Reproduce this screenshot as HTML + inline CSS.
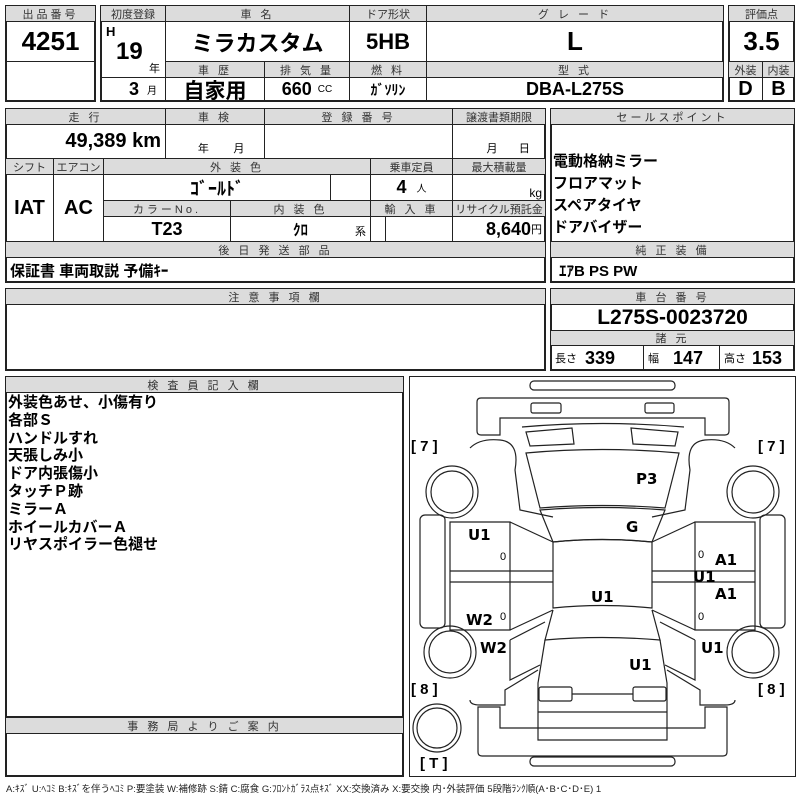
<!DOCTYPE html>
<html><head><meta charset="utf-8"><style>
*{margin:0;padding:0;box-sizing:border-box}
body{width:800px;height:800px;background:#fff;position:relative;overflow:hidden;font-family:"Liberation Sans","Noto Sans CJK JP",sans-serif;color:#000}
.c{position:absolute;border:1px solid #222;display:flex;align-items:center;justify-content:center;white-space:nowrap;overflow:hidden}
.h{background:#dcdcdc;font-size:11px;color:#333;letter-spacing:3px}
.v{font-weight:bold;font-size:18px;font-family:"Liberation Sans Narrow","Liberation Sans","Noto Sans CJK JP",sans-serif}
.o{position:absolute;border:2px solid #222}
.t{position:absolute;white-space:nowrap}
</style></head><body>
<div class="o" style="left:5px;top:5px;width:91px;height:97px"></div>
<div class="c h" style="left:5px;top:5px;width:91px;height:17px">出品番号</div>
<div class="c v" style="left:5px;top:21px;width:91px;height:41px;font-size:26px">4251</div>
<div class="c" style="left:5px;top:61px;width:91px;height:41px"></div>
<div class="o" style="left:100px;top:5px;width:624px;height:97px"></div>
<div class="c h" style="left:100px;top:5px;width:66px;height:17px;letter-spacing:0">初度登録</div>
<div class="c h" style="left:165px;top:5px;width:185px;height:17px">車 名</div>
<div class="c h" style="left:349px;top:5px;width:78px;height:17px;letter-spacing:0">ドア形状</div>
<div class="c h" style="left:426px;top:5px;width:298px;height:17px">グ レ ー ド</div>
<div class="c" style="left:100px;top:21px;width:66px;height:57px"></div>
<div class="t v" style="left:106px;top:24px;font-size:13px">H</div>
<div class="t v" style="left:116px;top:38px;font-size:24px">19</div>
<div class="t" style="left:149px;top:60px;font-size:11px">年</div>
<div class="c v" style="left:165px;top:21px;width:185px;height:41px;font-size:22px">ミラカスタム</div>
<div class="c v" style="left:349px;top:21px;width:78px;height:41px;font-size:22px">5HB</div>
<div class="c v" style="left:426px;top:21px;width:298px;height:41px;font-size:26px">L</div>
<div class="c h" style="left:165px;top:61px;width:100px;height:17px">車 歴</div>
<div class="c h" style="left:264px;top:61px;width:86px;height:17px">排 気 量</div>
<div class="c h" style="left:349px;top:61px;width:78px;height:17px">燃 料</div>
<div class="c h" style="left:426px;top:61px;width:298px;height:17px">型 式</div>
<div class="c v" style="left:100px;top:77px;width:66px;height:25px;justify-content:flex-end;padding-right:8px">3 <span style="font-size:10px;font-weight:normal;margin-left:8px">月</span></div>
<div class="c v" style="left:165px;top:77px;width:100px;height:25px;font-size:21px">自家用</div>
<div class="c v" style="left:264px;top:77px;width:86px;height:25px">660 <span style="font-size:10px;font-weight:normal;margin-left:6px">CC</span></div>
<div class="c v" style="left:349px;top:77px;width:78px;height:25px;font-size:14px">ｶﾞｿﾘﾝ</div>
<div class="c v" style="left:426px;top:77px;width:298px;height:25px">DBA-L275S</div>
<div class="o" style="left:728px;top:5px;width:67px;height:97px"></div>
<div class="c h" style="left:728px;top:5px;width:67px;height:17px;letter-spacing:0">評価点</div>
<div class="c v" style="left:728px;top:21px;width:67px;height:41px;font-size:26px">3.5</div>
<div class="c h" style="left:728px;top:61px;width:35px;height:17px;letter-spacing:0">外装</div>
<div class="c h" style="left:762px;top:61px;width:33px;height:17px;letter-spacing:0">内装</div>
<div class="c v" style="left:728px;top:77px;width:35px;height:25px;font-size:20px">D</div>
<div class="c v" style="left:762px;top:77px;width:33px;height:25px;font-size:20px">B</div>
<div class="o" style="left:5px;top:108px;width:541px;height:175px"></div>
<div class="c h" style="left:5px;top:108px;width:161px;height:17px">走 行</div>
<div class="c h" style="left:165px;top:108px;width:100px;height:17px">車 検</div>
<div class="c h" style="left:264px;top:108px;width:189px;height:17px">登 録 番 号</div>
<div class="c h" style="left:452px;top:108px;width:94px;height:17px;letter-spacing:0">譲渡書類期限</div>
<div class="c v" style="left:5px;top:124px;width:161px;height:35px;justify-content:flex-end;padding-right:4px;font-size:20px">49,389 km</div>
<div class="c" style="left:165px;top:124px;width:100px;height:35px;align-items:flex-end;font-size:11px;padding-bottom:2px">&nbsp;&nbsp;&nbsp;&nbsp;年&nbsp;&nbsp;&nbsp;&nbsp;&nbsp;&nbsp;&nbsp;&nbsp;月</div>
<div class="c" style="left:264px;top:124px;width:189px;height:35px"></div>
<div class="c" style="left:452px;top:124px;width:94px;height:35px;align-items:flex-end;font-size:11px;padding-bottom:2px">&nbsp;&nbsp;&nbsp;&nbsp;&nbsp;&nbsp;月&nbsp;&nbsp;&nbsp;&nbsp;&nbsp;&nbsp;&nbsp;日</div>
<div class="c h" style="left:5px;top:158px;width:49px;height:17px;letter-spacing:0">シフト</div>
<div class="c h" style="left:53px;top:158px;width:51px;height:17px;letter-spacing:0">エアコン</div>
<div class="c h" style="left:103px;top:158px;width:268px;height:17px">外 装 色</div>
<div class="c h" style="left:370px;top:158px;width:83px;height:17px;letter-spacing:0">乗車定員</div>
<div class="c h" style="left:452px;top:158px;width:94px;height:17px;letter-spacing:0">最大積載量</div>
<div class="c v" style="left:5px;top:174px;width:49px;height:68px;font-size:20px">IAT</div>
<div class="c v" style="left:53px;top:174px;width:51px;height:68px;font-size:20px">AC</div>
<div class="c v" style="left:103px;top:174px;width:228px;height:27px">ｺﾞｰﾙﾄﾞ</div>
<div class="c" style="left:330px;top:174px;width:41px;height:27px"></div>
<div class="c v" style="left:370px;top:174px;width:83px;height:27px">4 <span style="font-size:10px;font-weight:normal;margin-left:10px">人</span></div>
<div class="c" style="left:452px;top:174px;width:94px;height:27px;justify-content:flex-end;padding-right:3px;font-size:12px;align-items:flex-end">kg</div>
<div class="c h" style="left:103px;top:200px;width:128px;height:17px">カラーNo.</div>
<div class="c h" style="left:230px;top:200px;width:141px;height:17px">内 装 色</div>
<div class="c h" style="left:370px;top:200px;width:83px;height:17px">輸 入 車</div>
<div class="c h" style="left:452px;top:200px;width:94px;height:17px;letter-spacing:0">リサイクル預託金</div>
<div class="c v" style="left:103px;top:216px;width:128px;height:26px">T23</div>
<div class="c v" style="left:230px;top:216px;width:141px;height:26px;font-size:15px">ｸﾛ<span style="position:absolute;right:4px;bottom:2px;font-size:11px;font-weight:normal">系</span></div>
<div class="c" style="left:370px;top:216px;width:16px;height:26px"></div>
<div class="c" style="left:385px;top:216px;width:68px;height:26px"></div>
<div class="c v" style="left:452px;top:216px;width:94px;height:26px;justify-content:flex-end;padding-right:3px">8,640<span style="font-size:11px;font-weight:normal">円</span></div>
<div class="c h" style="left:5px;top:241px;width:541px;height:17px">後 日 発 送 部 品</div>
<div class="c v" style="left:5px;top:257px;width:541px;height:26px;justify-content:flex-start;padding-left:4px;font-size:15px">保証書 車両取説 予備ｷｰ</div>
<div class="o" style="left:550px;top:108px;width:245px;height:175px"></div>
<div class="c h" style="left:550px;top:108px;width:245px;height:17px">セールスポイント</div>
<div class="t" style="left:553px;top:151px;font-size:15px;font-weight:bold;line-height:22px">電動格納ミラー<br>フロアマット<br>スペアタイヤ<br>ドアバイザー</div>
<div class="c h" style="left:550px;top:241px;width:245px;height:17px">純 正 装 備</div>
<div class="c v" style="left:550px;top:257px;width:245px;height:26px;justify-content:flex-start;padding-left:8px;font-size:15px">ｴｱB PS PW</div>
<div class="o" style="left:5px;top:288px;width:541px;height:83px"></div>
<div class="c h" style="left:5px;top:288px;width:541px;height:17px">注 意 事 項 欄</div>
<div class="o" style="left:550px;top:288px;width:245px;height:83px"></div>
<div class="c h" style="left:550px;top:288px;width:245px;height:17px">車 台 番 号</div>
<div class="c v" style="left:550px;top:304px;width:245px;height:27px;font-size:21px">L275S-0023720</div>
<div class="c h" style="left:550px;top:330px;width:245px;height:16px">諸 元</div>
<div class="c v" style="left:550px;top:345px;width:94px;height:26px;justify-content:flex-start;padding-left:4px"><span style="font-size:11px;font-weight:normal;margin-right:8px">長さ</span>339</div>
<div class="c v" style="left:643px;top:345px;width:77px;height:26px;justify-content:flex-start;padding-left:4px"><span style="font-size:11px;font-weight:normal;margin-right:14px">幅</span>147</div>
<div class="c v" style="left:719px;top:345px;width:76px;height:26px;justify-content:flex-start;padding-left:4px"><span style="font-size:11px;font-weight:normal;margin-right:6px">高さ</span>153</div>
<div class="o" style="left:5px;top:376px;width:399px;height:342px"></div>
<div class="c h" style="left:5px;top:376px;width:399px;height:17px">検 査 員 記 入 欄</div>
<div class="t" style="left:8px;top:394px;font-size:15px;font-weight:bold;line-height:17.8px">外装色あせ、小傷有り<br>各部Ｓ<br>ハンドルすれ<br>天張しみ小<br>ドア内張傷小<br>タッチＰ跡<br>ミラーＡ<br>ホイールカバーＡ<br>リヤスポイラー色褪せ</div>
<div class="o" style="left:5px;top:717px;width:399px;height:60px"></div>
<div class="c h" style="left:5px;top:717px;width:399px;height:17px">事 務 局 よ り ご 案 内</div>
<div class="o" style="left:409px;top:376px;width:387px;height:401px;border-width:1px"></div>
<svg style="position:absolute;left:0;top:0" width="800" height="800" fill="none" stroke="#222" stroke-width="1.2">
<rect x="530" y="381" width="145" height="9" rx="4"/>
<path d="M481 398 H725 Q729 398 729 402 V431 Q729 435 725 435 H705 V418 H500 V435 H481 Q477 435 477 431 V402 Q477 398 481 398Z"/>
<rect x="531" y="403" width="30" height="10" rx="2"/><rect x="645" y="403" width="29" height="10" rx="2"/>
<path d="M522 427 Q602 420 684 427"/>
<path d="M526 432 L572 428 L574 444 L530 446Z"/><path d="M631 428 L678 432 L675 446 L633 444Z"/>
<path d="M526 453 Q602 446 679 453 L665 508 Q602 503 540 508Z"/>
<path d="M540 510 Q602 505 665 510 L652 542 Q602 537 553 542Z"/>
<path d="M553 542 Q602 537 652 542 V608 Q602 603 553 608Z"/>
<path d="M553 610 L545 640 Q602 635 660 640 L652 610"/>
<path d="M545 640 L538 683 V740 H667 V683 L660 640"/>
<rect x="539" y="687" width="33" height="14" rx="2"/><rect x="633" y="687" width="33" height="14" rx="2"/>
<path d="M572 694 H633"/>
<path d="M538 712 H667"/>
<path d="M478 707 V752 Q478 756 482 756 H723 Q727 756 727 752 V707 H705 V728 H500 V707Z"/>
<rect x="530" y="757" width="145" height="9" rx="4"/>
<path d="M470 448 Q480 438 500 440 Q520 442 515 470 L520 510 L553 517"/>
<path d="M735 448 Q725 438 705 440 Q685 442 690 470 L685 510 L652 517"/>
<path d="M470 700 Q470 705 480 705 H505 V690 L538 670"/>
<path d="M735 700 Q735 705 725 705 H700 V690 L667 670"/>
<circle cx="452" cy="492" r="26"/><circle cx="452" cy="492" r="21"/>
<circle cx="753" cy="492" r="26"/><circle cx="753" cy="492" r="21"/>
<circle cx="450" cy="652" r="26"/><circle cx="450" cy="652" r="21"/>
<circle cx="753" cy="652" r="26"/><circle cx="753" cy="652" r="21"/>
<circle cx="437" cy="728" r="24"/><circle cx="437" cy="728" r="20"/>
<rect x="420" y="515" width="25" height="113" rx="5"/><rect x="760" y="515" width="25" height="113" rx="5"/>
<path d="M450 522 H510 V630 H450Z M450 571 H553 M450 582 H553 M510 522 L553 542 M510 630 L553 610"/>
<path d="M755 522 H695 V630 H755Z M755 571 H652 M755 582 H652 M695 522 L652 542 M695 630 L652 610"/>
<path d="M510 640 L545 622 M510 640 V680 L540 665 M695 640 L660 622 M695 640 V680 L665 665"/>
</svg>
<div class="t v" style="left:636px;top:470px;font-family:'DejaVu Sans',sans-serif;font-size:15px">P3</div>
<div class="t v" style="left:626px;top:518px;font-family:'DejaVu Sans',sans-serif;font-size:15px">G</div>
<div class="t v" style="left:468px;top:526px;font-family:'DejaVu Sans',sans-serif;font-size:15px">U1</div>
<div class="t v" style="left:466px;top:611px;font-family:'DejaVu Sans',sans-serif;font-size:15px">W2</div>
<div class="t v" style="left:480px;top:639px;font-family:'DejaVu Sans',sans-serif;font-size:15px">W2</div>
<div class="t v" style="left:591px;top:588px;font-family:'DejaVu Sans',sans-serif;font-size:15px">U1</div>
<div class="t v" style="left:629px;top:656px;font-family:'DejaVu Sans',sans-serif;font-size:15px">U1</div>
<div class="t v" style="left:715px;top:551px;font-family:'DejaVu Sans',sans-serif;font-size:15px">A1</div>
<div class="t v" style="left:693px;top:568px;font-family:'DejaVu Sans',sans-serif;font-size:15px">U1</div>
<div class="t v" style="left:715px;top:585px;font-family:'DejaVu Sans',sans-serif;font-size:15px">A1</div>
<div class="t v" style="left:701px;top:639px;font-family:'DejaVu Sans',sans-serif;font-size:15px">U1</div>
<div class="t" style="left:500px;top:551px;font-size:11px">0</div>
<div class="t" style="left:500px;top:611px;font-size:11px">0</div>
<div class="t" style="left:698px;top:549px;font-size:11px">0</div>
<div class="t" style="left:698px;top:611px;font-size:11px">0</div>
<div class="t" style="left:411px;top:438px;font-size:15px;font-weight:bold">[&nbsp;7&nbsp;]</div>
<div class="t" style="left:758px;top:438px;font-size:15px;font-weight:bold">[&nbsp;7&nbsp;]</div>
<div class="t" style="left:411px;top:681px;font-size:15px;font-weight:bold">[&nbsp;8&nbsp;]</div>
<div class="t" style="left:758px;top:681px;font-size:15px;font-weight:bold">[&nbsp;8&nbsp;]</div>
<div class="t" style="left:420px;top:755px;font-size:15px;font-weight:bold">[&nbsp;T&nbsp;]</div>
<div class="t" style="left:6px;top:781px;font-size:9.5px;color:#222">A:ｷｽﾞ U:ﾍｺﾐ B:ｷｽﾞを伴うﾍｺﾐ P:要塗装 W:補修跡 S:錆 C:腐食 G:ﾌﾛﾝﾄｶﾞﾗｽ点ｷｽﾞ XX:交換済み X:要交換 内･外装評価 5段階ﾗﾝｸ順(A･B･C･D･E) 1</div>
</body></html>
